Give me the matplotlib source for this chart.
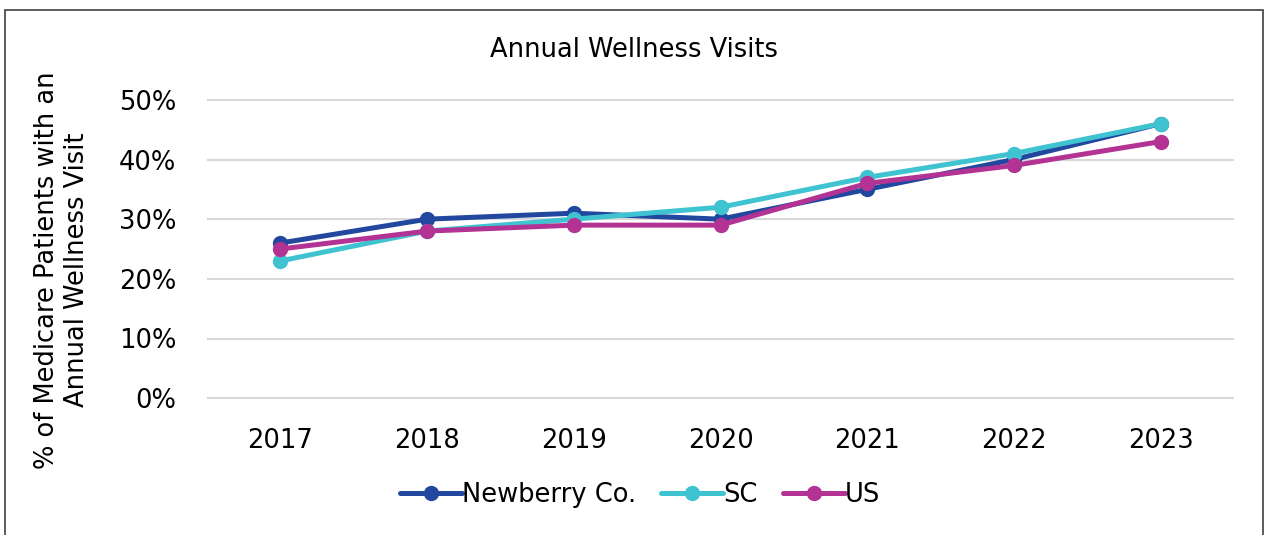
import matplotlib.pyplot as plt
from matplotlib.patches import Rectangle
from matplotlib.ticker import PercentFormatter

years = ["2017", "2018", "2019", "2020", "2021", "2022", "2023"]
newberry = [26, 30, 31, 30, 35, 40, 46]
sc = [23, 28, 30, 32, 37, 41, 46]
us = [25, 28, 29, 29, 36, 39, 43]

series = [
    ("Newberry Co.", newberry, "#21479F"),
    ("SC", sc, "#3FC3D0"),
    ("US", us, "#B23394"),
]

plt.rcParams["font.family"] = ["DejaVu Sans"]

W, H = 1270, 535
fig = plt.figure(figsize=(W / 100, H / 100), dpi=100)
ax = fig.add_axes([207 / W, 1 - 428 / H, (1234 - 207) / W, (428 - 70) / H])

x = range(len(years))
for label, vals, color in series:
    ax.plot(x, vals, color=color, lw=3.6, marker="o", ms=10, label=label,
            solid_capstyle="round")

ax.set_xlim(-0.5, len(years) - 0.5)
ax.set_ylim(-5, 55)
ax.set_yticks(range(0, 51, 10))
ax.yaxis.set_major_formatter(PercentFormatter(decimals=0))
ax.set_xticks(list(x))
ax.set_xticklabels(years)
ax.tick_params(length=0, labelsize=18.5)
ax.tick_params(axis="x", pad=0)
ax.tick_params(axis="y", pad=22)
for s in ax.spines.values():
    s.set_visible(False)
ax.grid(axis="y", color="#D9D9D9", lw=1.5)
ax.set_axisbelow(True)

fig.text(634 / W, 1 - 50 / H, "Annual Wellness Visits", ha="center", va="center",
         fontsize=18.5)
fig.text(62 / W, 1 - 270 / H, "% of Medicare Patients with an\nAnnual Wellness Visit",
         ha="center", va="center", rotation=90, fontsize=18.5, linespacing=1.15)

ax.legend(loc="center", bbox_to_anchor=(640 / W, 1 - 495 / H),
          bbox_transform=fig.transFigure, ncol=3, frameon=False, fontsize=18.5,
          handlelength=2.4, handletextpad=0.0, columnspacing=1.0)

fig.patches.append(Rectangle((5 / W, -0.05), 1258 / W, 1 - 10 / H + 0.05,
                             transform=fig.transFigure, fill=False,
                             edgecolor="#404040", lw=1.2))

fig.savefig("out.png", dpi=100)
